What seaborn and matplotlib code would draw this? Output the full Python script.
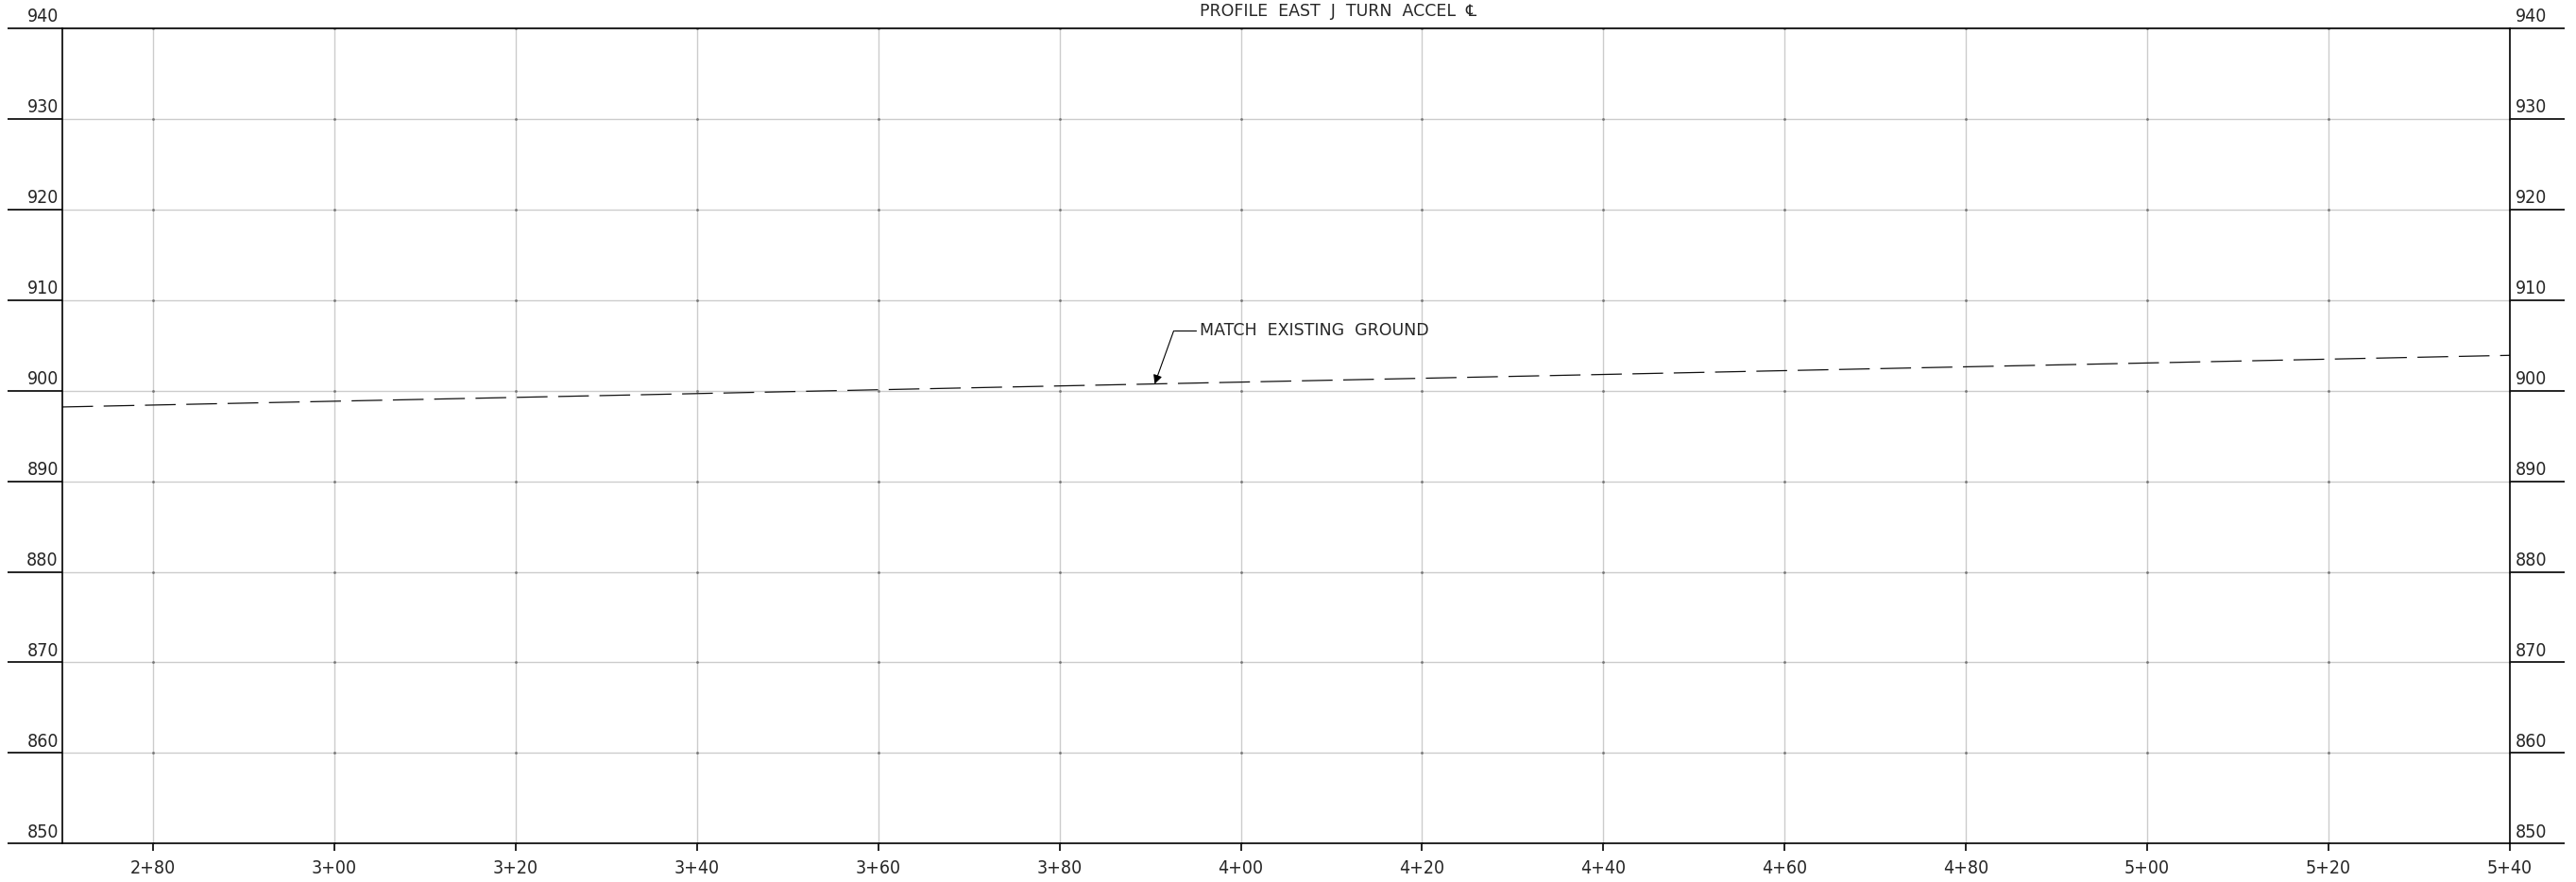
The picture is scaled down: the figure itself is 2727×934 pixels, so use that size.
import numpy as np
import pandas as pd
import matplotlib
matplotlib.use("Agg")
import matplotlib.pyplot as plt
import seaborn as sns

# profile data (station in ft, elevation in ft)
stations = [270, 360, 450, 540]
ground_elev = [898.2, 900.1, 902.0, 903.9]

station_ticks = list(range(280, 541, 20))
elev_ticks = list(range(850, 941, 10))
station_labels = [f"{s // 100}+{s % 100:02d}" for s in station_ticks]

title_text = "PROFILE  EAST  J  TURN  ACCEL  \u2104"
title_station = 395.5
note_text = "MATCH  EXISTING  GROUND"
note_station = 390.5
note_knee = (392.6, 906.6)
note_label_station = 395.5

sns.set_style("white")
plt.rcParams["font.family"] = ["DejaVu Sans", "Noto Sans"]
tick_font = dict(family="DejaVu Sans", stretch="condensed", size=14)

fig = plt.figure(figsize=(27.27, 9.34), dpi=100)
ax = fig.add_axes([66 / 2727, 1 - 893.3 / 934, (2657 - 66) / 2727, (893.3 - 30) / 934])

df = pd.DataFrame({"station": stations, "elev": ground_elev})
sns.lineplot(data=df, x="station", y="elev", ax=ax, color="#111111",
             linewidth=0.9, linestyle=(0, (26, 9)))

ax.set_xlim(270, 540)
ax.set_ylim(850, 940)
ax.set_xticks(station_ticks)
ax.set_xticklabels(station_labels, fontdict=tick_font)
ax.set_yticks(elev_ticks)
ax.set_yticklabels([])
ax.set_xlabel("")
ax.set_ylabel("")

ax.grid(True, color="#cccccc", linewidth=1.0)
ax.set_axisbelow(True)
gx, gy = np.meshgrid(station_ticks, elev_ticks)
ax.plot(gx.ravel(), gy.ravel(), linestyle="none", marker="o", markersize=1.0,
        color="#777777", zorder=1)

for sp in ax.spines.values():
    sp.set_color("black")
    sp.set_linewidth(1.2)

ax.tick_params(axis="y", which="both", left=True, right=True, direction="out",
               length=42, width=1.2, color="black")
ax.tick_params(axis="x", which="both", bottom=True, direction="out",
               length=5.8, width=1.2, color="black", pad=6)

ytr = ax.get_yaxis_transform()
for v in elev_ticks:
    ax.annotate(str(v), xy=(0, v), xycoords=ytr, xytext=(-3, 2),
                textcoords="offset points", ha="right", va="bottom", **tick_font)
    ax.annotate(str(v), xy=(1, v), xycoords=ytr, xytext=(4, 2),
                textcoords="offset points", ha="left", va="bottom", **tick_font)

# title
ax.annotate(title_text, xy=(title_station, 940), xytext=(0, 9.4),
            textcoords="offset points", ha="left", va="baseline",
            fontsize=12.5, annotation_clip=False)

# leader note
tip_elev = np.interp(note_station, stations, ground_elev)
ax.plot([note_knee[0], note_label_station - 0.4], [note_knee[1], note_knee[1]],
        color="black", linewidth=0.8)
ax.annotate("", xy=(note_station, tip_elev), xytext=note_knee,
            arrowprops=dict(arrowstyle="-|>", color="black", lw=0.8,
                            mutation_scale=14, shrinkA=0, shrinkB=0))
ax.text(note_label_station, note_knee[1], note_text, ha="left", va="center",
        fontsize=12.5)

fig.savefig("out.png", dpi=100)
